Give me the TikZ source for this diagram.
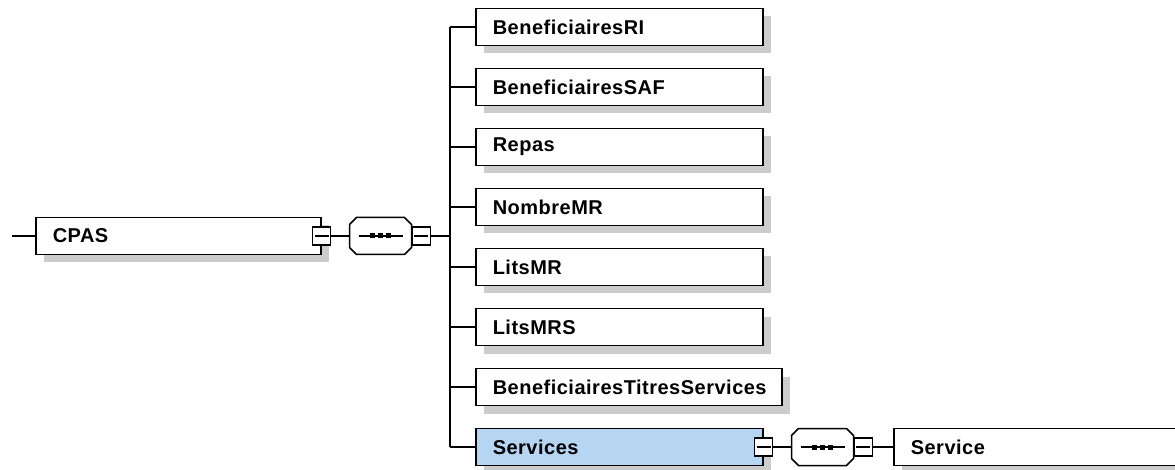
\documentclass[tikz,border=0pt]{standalone}
\usepackage{fontspec}
\setmainfont{Liberation Sans}
\newfontfamily\elemfont{Liberation Sans}[LetterSpace=2.5]
\definecolor{shadowgray}{RGB}{204, 204, 204}
\definecolor{serviceblue}{RGB}{182, 213, 243}
\usetikzlibrary{
  calc,
  positioning,
  shadows,
}
\tikzset{
  elem/.style={draw,rectangle,line width=1.5pt,fill=white,minimum height=37pt,inner xsep=17pt,inner ysep=0pt,text width=#1,align=left,font=\elemfont\bfseries\fontsize{20}{24}\selectfont,drop shadow={shadow xshift=8pt,shadow yshift=-8pt,fill=shadowgray,opacity=1}},
  seqbox/.style={rectangle,minimum width=62pt,minimum height=37pt,inner sep=0pt,outer sep=0pt},
  minusbox/.style={draw,rectangle,line width=1.5pt,fill=white,minimum size=18pt,inner sep=0pt,
    path picture={\draw[line width=1.2pt] ([xshift=2pt]path picture bounding box.west) -- ([xshift=-2pt]path picture bounding box.east);}},
  link/.style={line width=1.5pt},
}
\newcommand{\seqoutline}[1]{
  ($(#1.north west)+(7,0)$) -- ($(#1.north east)+(-7,0)$) -- ($(#1.north east)+(0,-7)$) -- ($(#1.south east)+(0,7)$) -- ($(#1.south east)+(-7,0)$) -- ($(#1.south west)+(7,0)$) -- ($(#1.south west)+(0,7)$) -- ($(#1.north west)+(0,-7)$) -- cycle}
\begin{document}
\begin{tikzpicture}[x=1pt,y=1pt,node distance=21.5pt and 18pt]
  \useasboundingbox (0,0) rectangle (1175,-470);
  \clip (0,0) rectangle (1175,-470);

  % root element and its sequence
  \coordinate (start) at (12,-236);
  \node[elem=251pt,anchor=west] (cpas) at (35,-236) {CPAS};
  \node[seqbox,right=28pt of cpas.east] (cpasseq) {};

  % children
  \node[elem=253pt,anchor=west] (ri) at (475,-27) {BeneficiairesRI};
  \node[elem=253pt,below=of ri.south west,anchor=north west] (saf) {BeneficiairesSAF};
  \node[elem=253pt,below=of saf.south west,anchor=north west] (repas) {Repas};
  \node[elem=253pt,below=of repas.south west,anchor=north west] (nombremr) {NombreMR};
  \node[elem=253pt,below=of nombremr.south west,anchor=north west] (litsmr) {LitsMR};
  \node[elem=253pt,below=of litsmr.south west,anchor=north west] (litsmrs) {LitsMRS};
  \node[elem=272pt,below=of litsmrs.south west,anchor=north west] (titres) {BeneficiairesTitresServices};
  \node[elem=253pt,fill=serviceblue,below=of titres.south west,anchor=north west] (services) {Services};
  \node[seqbox,right=28pt of services.east] (servicesseq) {};

  % sequence outlines with dots
  \foreach \s in {cpasseq,servicesseq} {
    \fill[shadowgray,shift={(8,-8)}] \seqoutline{\s};
    \draw[line width=1.5pt,fill=white] \seqoutline{\s};
    \draw[line width=1.5pt] ([xshift=9pt]\s.west) -- ([xshift=-9pt]\s.east);
    \foreach \dx in {-8,0,8}
      \fill ([xshift=\dx pt]\s.center) +(-2.5,-2.5) rectangle +(2.5,2.5);
  }

  \node[minusbox] (cpasminus) at (cpas.east) {};
  \node[minusbox,right=0pt of cpasseq] (cpasseqminus) {};
  \coordinate[right=19pt of cpasseqminus] (trunk);
  \node[minusbox] (servicesminus) at (services.east) {};
  \node[minusbox,right=0pt of servicesseq] (servicesseqminus) {};
  \node[elem=400pt,right=20pt of servicesseqminus] (service) {Service};

  % connectors
  \draw[link] (start) -- (cpas);
  \draw[link] (cpasminus) -- (cpasseq);
  \draw[link] (cpasseqminus) -- (trunk);
  \draw[link] (trunk |- ri.west) -- (trunk |- services.west);
  \foreach \child in {ri,saf,repas,nombremr,litsmr,litsmrs,titres,services}
    \draw[link] (trunk |- \child.west) -- (\child.west);
  \draw[link] (servicesminus) -- (servicesseq);
  \draw[link] (servicesseqminus) -- (service);
\end{tikzpicture}
\end{document}
